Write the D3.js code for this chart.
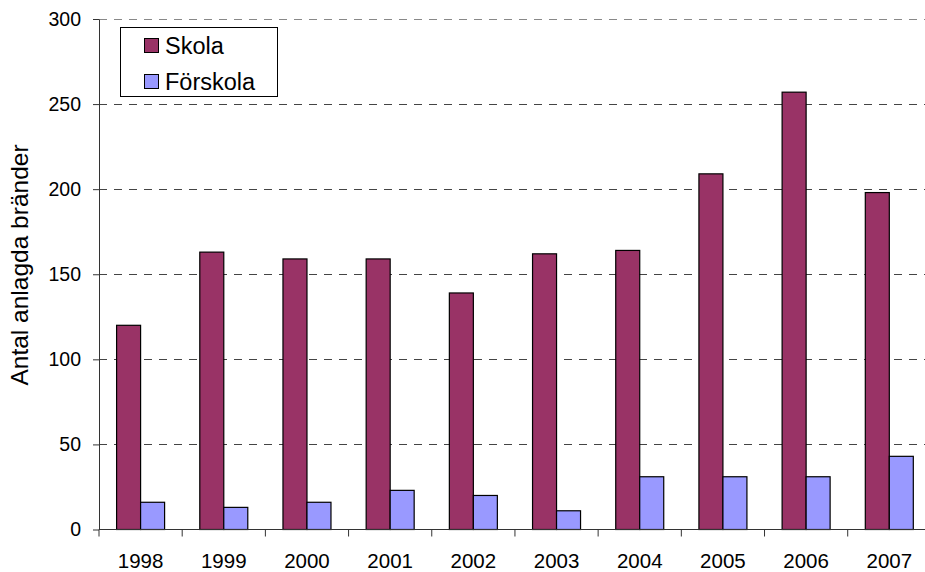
<!DOCTYPE html>
<html>
<head>
<meta charset="utf-8">
<script src="https://cdn.jsdelivr.net/npm/d3@7"></script>
<style>
  html, body { margin: 0; padding: 0; background: #fff; }
  svg { display: block; font-family: "Liberation Sans", Arial, sans-serif; }
</style>
</head>
<body>
<svg id="chart" width="925" height="572"></svg>
<script>
const years = ["1998","1999","2000","2001","2002","2003","2004","2005","2006","2007"];
const seriesNames = ["Skola", "Förskola"];
const skola = [120, 163, 159, 159, 139, 162, 164, 209, 257, 198];
const forskola = [16, 13, 16, 23, 20, 11, 31, 31, 31, 43];
const yTicks = [0, 50, 100, 150, 200, 250, 300];
const yTitle = "Antal anlagda bränder";
const colors = ["#993366", "#9999FF"];

(function () {
const seriesValues = [skola, forskola];
const data = years.map((yr, i) => ({ year: yr, values: seriesNames.map((s, j) => ({ key: s, value: seriesValues[j][i], idx: j })) }));

const svg = d3.select("#chart");
const pLeft = 99, pRight = 930.9, pTop = 19, pBottom = 529.5;

const y = d3.scaleLinear().domain([0, 300]).range([pBottom, pTop]);
const x0 = d3.scaleBand().domain(years).range([pLeft, pRight]).paddingInner(0.423).paddingOuter(0.2115);
const x1 = d3.scaleBand().domain(seriesNames).range([0, x0.bandwidth()]);
const step = x0.step();

// gridlines
svg.append("g").selectAll("line")
  .data(yTicks.filter(d => d > 0))
  .join("line")
  .attr("x1", pLeft).attr("x2", 925)
  .attr("y1", d => Math.round(y(d)) + 0.5).attr("y2", d => Math.round(y(d)) + 0.5)
  .attr("stroke", d => d === 300 ? "#888" : "#444")
  .attr("stroke-width", 1)
  .attr("stroke-dasharray", "8,7");

// bars
const groups = svg.append("g").selectAll("g")
  .data(data).join("g")
  .attr("transform", d => `translate(${x0(d.year)},0)`);
groups.selectAll("rect")
  .data(d => d.values).join("rect")
  .attr("x", d => x1(d.key))
  .attr("y", d => y(d.value))
  .attr("width", x1.bandwidth())
  .attr("height", d => y(0) - y(d.value))
  .attr("fill", d => colors[d.idx])
  .attr("stroke", "#000")
  .attr("stroke-width", 1.2);

// y axis
const yAxis = d3.axisLeft(y).tickValues(yTicks).tickSize(6).tickPadding(12).tickSizeOuter(0);
const gy = svg.append("g").attr("transform", `translate(${pLeft},0)`).call(yAxis);
gy.select(".domain").attr("stroke", "#333");
gy.selectAll(".tick line").attr("stroke", "#333");
gy.selectAll(".tick text").attr("font-size", 19.5).attr("fill", "#000")
  .attr("font-family", "'Liberation Sans', Arial, sans-serif");

// x axis baseline
svg.append("line")
  .attr("x1", pLeft).attr("x2", pRight)
  .attr("y1", pBottom).attr("y2", pBottom)
  .attr("stroke", "#333");
// x ticks at category boundaries
const boundaries = years.map(d => x0(d) - (step - x0.bandwidth()) / 2).concat([pRight]);
svg.append("g").selectAll("line")
  .data(boundaries).join("line")
  .attr("x1", d => d).attr("x2", d => d)
  .attr("y1", pBottom).attr("y2", pBottom + 7)
  .attr("stroke", "#333");
// x labels
svg.append("g").selectAll("text")
  .data(years).join("text")
  .attr("x", d => x0(d) + x0.bandwidth() / 2)
  .attr("y", 568)
  .attr("text-anchor", "middle")
  .attr("font-size", 20.5)
  .attr("fill", "#000")
  .text(d => d);

// y title
svg.append("text")
  .attr("transform", "translate(28,265) rotate(-90)")
  .attr("text-anchor", "middle")
  .attr("font-size", 24.5)
  .attr("fill", "#000")
  .text(yTitle);

// legend
const lg = svg.append("g");
lg.append("rect")
  .attr("x", 120.5).attr("y", 27.5).attr("width", 157).attr("height", 69)
  .attr("fill", "#fff").attr("stroke", "#000");
const items = lg.selectAll("g.item").data(seriesNames).join("g").attr("class", "item")
  .attr("transform", (d, i) => `translate(0,${i * 36})`);
items.append("rect")
  .attr("x", 144.5).attr("y", 38.5).attr("width", 14).attr("height", 14)
  .attr("fill", (d, i) => colors[i]).attr("stroke", "#000");
items.append("text")
  .attr("x", 165).attr("y", 53.5)
  .attr("font-size", 23.5)
  .attr("fill", "#000")
  .text(d => d);
})();
</script>
</body>
</html>
